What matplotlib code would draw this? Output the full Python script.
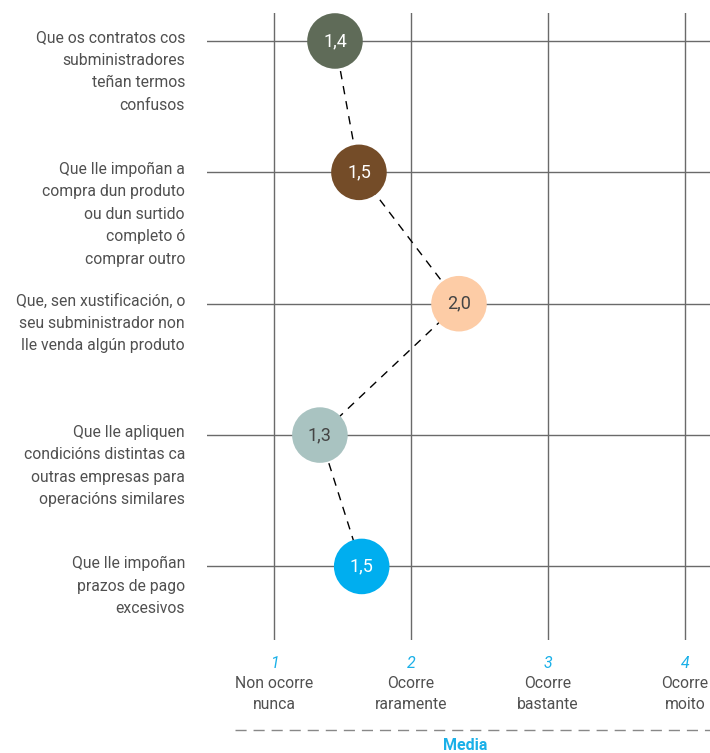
import matplotlib
matplotlib.use("Agg")
import matplotlib.pyplot as plt
import matplotlib.transforms as mtransforms
from matplotlib.lines import Line2D

# data
categories = [
    "Que os contratos cos\nsubministradores\nteñan termos\nconfusos",
    "Que lle impoñan a\ncompra dun produto\nou dun surtido\ncompleto ó\ncomprar outro",
    "Que, sen xustificación, o\nseu subministrador non\nlle venda algún produto",
    "Que lle apliquen\ncondicións distintas ca\noutras empresas para\noperacións similares",
    "Que lle impoñan\nprazos de pago\nexcesivos",
]
positions = [1.445, 1.62, 2.35, 1.335, 1.64]
value_labels = ["1,4", "1,5", "2,0", "1,3", "1,5"]
dot_colors = ["#5f6b58", "#744c28", "#fdcca6", "#a9c3c1", "#00aeef"]
text_colors = ["white", "white", "#444444", "#444444", "white"]
scale_values = [1, 2, 3, 4]
scale_labels = ["Non ocorre\nnunca", "Ocorre\nraramente", "Ocorre\nbastante", "Ocorre\nmoito"]

W, H = 710, 753
plt.rcParams["font.family"] = ["Roboto", "DejaVu Sans"]
fig = plt.figure(figsize=(W / 100, H / 100), dpi=100)
ax = fig.add_axes([207 / W, 1 - 640 / H, 1 - 207 / W, (640 - 13) / H])
ax.set_xlim(0.511, 4.182)
ax.set_ylim(4.56, -0.213)
ax.axis("off")

ypos = list(range(len(categories)))
for y in ypos:
    ax.axhline(y, color="#6a6a6a", lw=1, zorder=1)
for v in scale_values:
    ax.axvline(v, color="#6a6a6a", lw=1, zorder=1)

ax.plot(positions, ypos, color="black", lw=1, ls=(0, (6, 5)), zorder=2)
ax.scatter(positions, ypos, s=1600, c=dot_colors, zorder=3, linewidths=0)
for x, y, lab, tc in zip(positions, ypos, value_labels, text_colors):
    ax.text(x, y, lab, ha="center", va="center", fontsize=13, color=tc, zorder=4)

# category labels
lab_tr = mtransforms.blended_transform_factory(fig.transFigure, ax.transData)
for y, cat in zip(ypos, categories):
    ax.annotate(cat, xy=(185 / W, y), xycoords=lab_tr, xytext=(0, 7.5),
                textcoords="offset points", ha="right", va="top",
                fontsize=11.3, color="#505050", linespacing=1.62)

# x scale
sc_tr = mtransforms.blended_transform_factory(ax.transData, fig.transFigure)
for v, lab in zip(scale_values, scale_labels):
    ax.text(v, 1 - 663 / H, str(v), transform=sc_tr, ha="center", va="center",
            fontsize=11.5, style="italic", color="#1ab0e8")
    ax.text(v, 1 - 676 / H, lab, transform=sc_tr, ha="center", va="top",
            fontsize=11.3, color="#505050", linespacing=1.5)

fig.add_artist(Line2D([235 / W, 1.0], [1 - 730 / H, 1 - 730 / H], transform=fig.transFigure,
                      color="#888888", lw=1, ls=(0, (8, 5))))
fig.text(465 / W, 1 - 745 / H, "Media", ha="center", va="center",
         fontsize=11.5, fontweight="bold", color="#1ab0e8")

fig.savefig("out.png", dpi=100)
